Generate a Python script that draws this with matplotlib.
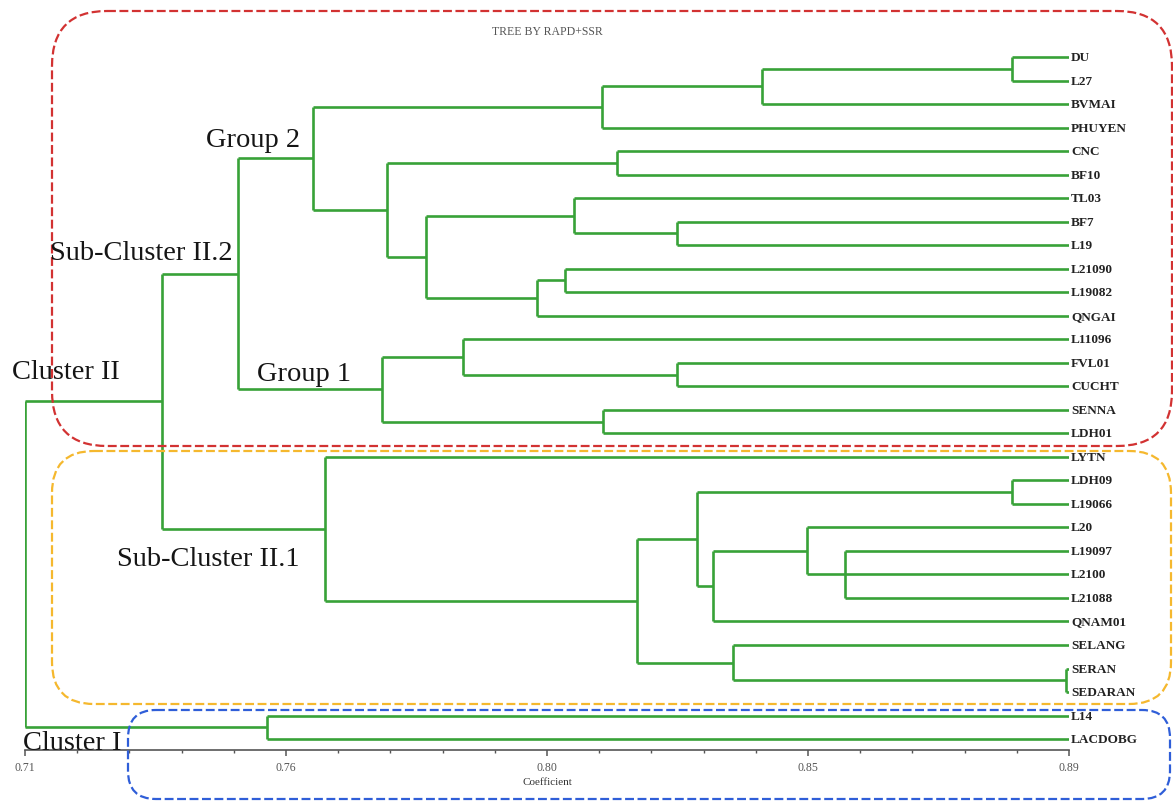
import matplotlib
matplotlib.use("Agg")
import matplotlib.pyplot as plt
from matplotlib.patches import FancyBboxPatch
import numpy as np

# ---------------- data ----------------
leaves = ["DU", "L27", "BVMAI", "PHUYEN", "CNC", "BF10", "TL03", "BF7", "L19",
          "L21090", "L19082", "QNGAI", "L11096", "FVL01", "CUCHT", "SENNA", "LDH01",
          "LYTN", "LDH09", "L19066", "L20", "L19097", "L2100", "L21088", "QNAM01",
          "SELANG", "SERAN", "SEDARAN", "L14", "LACDOBG"]

# merges: name, children, similarity coefficient
merge_names = ["dl", "dlb", "A", "cb", "bl", "tbl", "ll", "D", "C", "B", "G2",
               "fc", "E", "sl", "G1", "II2",
               "lh", "K", "J", "I", "G", "ss", "H", "F", "II1", "CII",
               "CI", "root"]
merge_children = [["DU", "L27"], ["dl", "BVMAI"], ["dlb", "PHUYEN"], ["CNC", "BF10"],
                  ["BF7", "L19"], ["TL03", "bl"], ["L21090", "L19082"], ["ll", "QNGAI"],
                  ["tbl", "D"], ["cb", "C"], ["A", "B"],
                  ["FVL01", "CUCHT"], ["L11096", "fc"], ["SENNA", "LDH01"], ["E", "sl"],
                  ["G2", "G1"],
                  ["LDH09", "L19066"], ["L19097", "L2100", "L21088"], ["L20", "K"],
                  ["J", "QNAM01"], ["lh", "I"], ["SERAN", "SEDARAN"], ["SELANG", "ss"],
                  ["G", "H"], ["LYTN", "F"], ["II2", "II1"],
                  ["L14", "LACDOBG"], ["CII", "CI"]]
merge_coef = [0.8802, 0.8371, 0.8095, 0.8121, 0.8224, 0.8047, 0.8031, 0.7983,
              0.7791, 0.7724, 0.7597,
              0.8224, 0.7855, 0.8097, 0.7716, 0.7467,
              0.8802, 0.8514, 0.8448, 0.8286, 0.8259, 0.8895, 0.8321, 0.8155,
              0.7617, 0.7336,
              0.7517, 0.7100]

x_min, x_max = 0.71, 0.89
tick_vals = np.linspace(x_min, x_max, 5)
tick_labels = ["0.71", "0.76", "0.80", "0.85", "0.89"]

title = "TREE BY RAPD+SSR"
xlabel = "Coefficient"

annotations = ["Group 2", "Sub-Cluster II.2", "Cluster II", "Group 1",
               "Sub-Cluster II.1", "Cluster I"]

# ---------------- layout ----------------
W, H = 1173, 803
fig = plt.figure(figsize=(W / 100, H / 100), dpi=100)
fig.patch.set_facecolor("white")

x0px, x1px = 25, 1069
top_px, bot_px = 14, 751
leaf0_px, leaf_step = 58, 23.52

ax = fig.add_axes([x0px / W, 1 - bot_px / H, (x1px - x0px) / W, (bot_px - top_px) / H])
ax.set_xlim(x_min, x_max)
ax.set_ylim((bot_px - leaf0_px) / leaf_step, (top_px - leaf0_px) / leaf_step)

green = "#38a238"
lw = 1.9

pos = {}
for i, name in enumerate(leaves):
    pos[name] = (x_max, float(i))

for name, ch, c in zip(merge_names, merge_children, merge_coef):
    ys = [pos[k][1] for k in ch]
    for k in ch:
        cx, cy = pos[k]
        ax.plot([c, cx], [cy, cy], color=green, lw=lw, solid_capstyle="butt")
    ax.plot([c, c], [min(ys), max(ys)], color=green, lw=lw, solid_capstyle="butt")
    pos[name] = (c, (min(ys) + max(ys)) / 2)

leaf_font = dict(family="Liberation Serif", fontweight="bold", fontsize=9.5, color="#222222")
for i, name in enumerate(leaves):
    ax.annotate(name, (x_max, i), xytext=(1.5, 0), textcoords="offset points",
                va="center", ha="left", **leaf_font)

for s in ["top", "left", "right"]:
    ax.spines[s].set_visible(False)
ax.spines["bottom"].set_color("#555555")
ax.spines["bottom"].set_linewidth(1.2)
ax.set_yticks([])
ax.set_xticks(tick_vals)
ax.set_xticklabels(tick_labels, family="Liberation Serif")
ax.set_xticks(np.linspace(x_min, x_max, 21), minor=True)
ax.tick_params(axis="x", which="major", direction="out", length=4, width=1.1,
               color="#555555", labelsize=8.5, labelcolor="#555555", pad=4)
ax.tick_params(axis="x", which="minor", direction="out", length=2.5, width=1.0,
               color="#555555")
ax.set_xlabel(xlabel, family="Liberation Serif", fontsize=8, color="#333333", labelpad=3)
ax.patch.set_alpha(0)

# ---------------- overlay (pixel coordinates) ----------------
ov = fig.add_axes([0, 0, 1, 1], zorder=5)
ov.set_xlim(0, W)
ov.set_ylim(H, 0)
ov.axis("off")
ov.patch.set_alpha(0)

boxes = [((52, 12, 1172, 447), 55, "#d23232"),
         ((52, 452, 1171, 705), 42, "#f5b82e"),
         ((128, 711, 1170, 800), 28, "#2f5ed8")]
for (xa, ya, xb, yb), r, col in boxes:
    ov.add_patch(FancyBboxPatch((xa, ya), xb - xa, yb - ya,
                                boxstyle=f"round,pad=0,rounding_size={r}",
                                fill=False, edgecolor=col, lw=1.6,
                                linestyle=(0, (4, 1.6))))

ov.text(547, 32, title, family="Liberation Serif", fontsize=8.5, color="#555555",
        ha="center", va="center")

ann_xy = [(206, 147), (50, 260), (12, 379), (257, 381), (117, 566), (23, 750)]
for txt, (tx, ty) in zip(annotations, ann_xy):
    ov.text(tx, ty, txt, family="Liberation Serif", fontsize=20.5, color="#151515",
            ha="left", va="baseline")

fig.savefig("out.png", dpi=100, facecolor="white")
